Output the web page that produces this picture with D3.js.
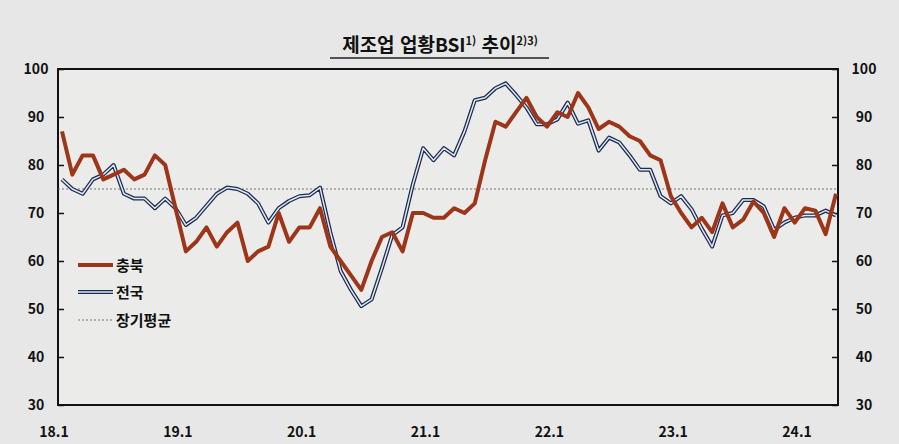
<!DOCTYPE html>
<html lang="ko">
<head>
<meta charset="utf-8">
<title>제조업 업황BSI 추이</title>
<script src="https://d3js.org/d3.v7.min.js"></script>
<style>
  body { margin: 0; background: #e6e7e6; }
  svg text { font-family: "Noto Sans CJK KR", "Noto Sans", sans-serif; fill: #111; }
</style>
</head>
<body>
<div id="chart"></div>
<script>
"use strict"

var chungbuk = [87,78,82,82,77,78,79,77,78,82,80,71,
  62,64,67,63,66,68,60,62,63,70,64,67,
  67,71,63,60,57,54,60,65,66,62,70,70,
  69,69,71,70,72,81,89,88,91,94,90,88,
  91,90,95,92,87.5,89,88,86,85,82,81,73.5,
  70,67,69,66,72,67,68.6,72.4,70,65,71,68,
  71,70.5,65.6,74];
var jeonguk = [77,75,74,77,78,80,74,73,73,71,73,71,
  67.5,69,71.5,74,75.3,75,74,72,68,71,72.5,73.5,
  73.7,75.3,66,57.9,54,50.6,52,58.5,65.4,67,76,83.5,
  81,83.5,82,87,93.5,94,96,97,94.6,92,88.5,88.5,
  89.5,93,88.6,89.3,83,85.7,84.7,82,79,79,73.5,72,
  73.5,70.8,66.7,63,69.5,70,72.7,72.7,71.4,66.5,68,69,
  69.5,69.5,70.5,69.5];
var longAvg = 75;
var xTickIdx = [0,12,24,36,48,60,72];
var xTickLabels = ["18.1","19.1","20.1","21.1","22.1","23.1","24.1"];
var yTicks = [30,40,50,60,70,80,90,100];

var W = 899, H = 444;
var pLeft = 58, pRight = 838, pTop = 69, pBottom = 405;

var svg = d3.select("#chart").append("svg").attr("width", W).attr("height", H);

var x = d3.scaleLinear().domain([0, 75]).range([62, 836]);
var y = d3.scaleLinear().domain([30, 100]).range([pBottom, pTop]);

// title
var title = svg.append("text").attr("x", 440).attr("y", 52).attr("text-anchor", "middle")
  .style("font-size", "19px").style("font-weight", "bold");
title.append("tspan").text("제조업  업황BSI");
title.append("tspan").attr("dy", -7).style("font-size", "11px").text("1)");
title.append("tspan").attr("dy", 7).text(" 추이");
title.append("tspan").attr("dy", -7).style("font-size", "11px").text("2)3)");
svg.append("line").attr("x1", 330).attr("x2", 549).attr("y1", 58).attr("y2", 58)
  .attr("stroke", "#222").attr("stroke-width", 1.5);

// frame
svg.append("rect").attr("x", pLeft).attr("y", pTop).attr("width", pRight - pLeft).attr("height", pBottom - pTop)
  .attr("fill", "#ebebea").attr("stroke", "#111").attr("stroke-width", 2);

// axes
svg.append("g").attr("transform", "translate(" + pLeft + ",0)")
  .call(d3.axisRight(y).tickValues(yTicks).tickSize(6).tickFormat(""))
  .call(g => g.select(".domain").remove());
svg.append("g").attr("transform", "translate(" + pRight + ",0)")
  .call(d3.axisLeft(y).tickValues(yTicks).tickSize(6).tickFormat(""))
  .call(g => g.select(".domain").remove());
svg.selectAll(".tick line").attr("stroke", "#111").attr("stroke-width", 1.5);

svg.selectAll(".ylab-l").data(yTicks).enter().append("text")
  .attr("x", 36).attr("y", d => y(d) + 5).attr("text-anchor", "middle")
  .style("font-size", "14px").style("font-weight", "bold").text(d => d);
svg.selectAll(".ylab-r").data(yTicks).enter().append("text")
  .attr("x", 864).attr("y", d => y(d) + 5).attr("text-anchor", "middle")
  .style("font-size", "14px").style("font-weight", "bold").text(d => d);

svg.selectAll(".xlab").data(xTickIdx).enter().append("text")
  .attr("x", d => x(d) - 8).attr("y", 437).attr("text-anchor", "middle")
  .style("font-size", "14px").style("font-weight", "bold").text((d, i) => xTickLabels[i]);

// long-term average
svg.append("line").attr("x1", pLeft).attr("x2", pRight).attr("y1", y(longAvg)).attr("y2", y(longAvg))
  .attr("stroke", "#777").attr("stroke-width", 1).attr("stroke-dasharray", "2,2");

var line = d3.line().x((d, i) => x(i)).y(d => y(d));

svg.append("path").datum(jeonguk).attr("d", line).attr("fill", "none")
  .attr("stroke", "#1d2b4f").attr("stroke-width", 4).attr("stroke-linejoin", "round");
svg.append("path").datum(jeonguk).attr("d", line).attr("fill", "none")
  .attr("stroke", "#dfe7f3").attr("stroke-width", 1.5).attr("stroke-linejoin", "round");
svg.append("path").datum(chungbuk).attr("d", line).attr("fill", "none")
  .attr("stroke", "#9c3519").attr("stroke-width", 4).attr("stroke-linejoin", "round");

// legend
var lg = svg.append("g");
lg.append("line").attr("x1", 78).attr("x2", 113).attr("y1", 265).attr("y2", 265)
  .attr("stroke", "#9c3519").attr("stroke-width", 4);
lg.append("line").attr("x1", 78).attr("x2", 113).attr("y1", 292).attr("y2", 292)
  .attr("stroke", "#1d2b4f").attr("stroke-width", 4);
lg.append("line").attr("x1", 78).attr("x2", 113).attr("y1", 292).attr("y2", 292)
  .attr("stroke", "#dfe7f3").attr("stroke-width", 1.5);
lg.append("line").attr("x1", 78).attr("x2", 113).attr("y1", 320).attr("y2", 320)
  .attr("stroke", "#777").attr("stroke-width", 1).attr("stroke-dasharray", "2,2");
[["충북", 265], ["전국", 292], ["장기평균", 320]].forEach(function (d) {
  lg.append("text").attr("x", 116).attr("y", d[1] + 6).style("font-size", "15px")
    .style("font-weight", "bold").text(d[0]);
});
</script>
</body>
</html>
